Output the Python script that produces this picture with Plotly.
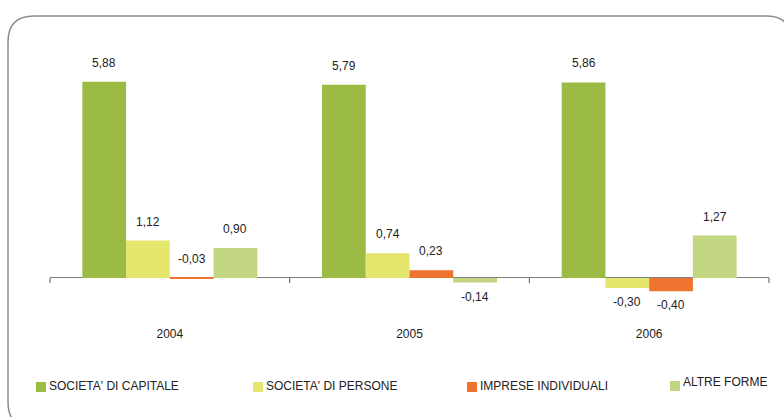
import plotly.graph_objects as go

years = ["2004", "2005", "2006"]
series_names = ["SOCIETA' DI CAPITALE", "SOCIETA' DI PERSONE", "IMPRESE INDIVIDUALI", "ALTRE FORME"]
capitale = [5.88, 5.79, 5.86]
persone = [1.12, 0.74, -0.30]
individuali = [-0.03, 0.23, -0.40]
altre = [0.90, -0.14, 1.27]
series_values = [capitale, persone, individuali, altre]
colors = ["#9BBB45", "#E4E66E", "#EE7430", "#C2D580"]

W, H = 784, 417
ML, MR, MT, MB = 50, 15, 41, 99
BARGAP = 0.27
YMIN, YMAX = -1.2, 7.1
FONT = "Liberation Sans, Arial, sans-serif"
TXT = "#222222"

plot_w = W - ML - MR
plot_h = H - MT - MB


def to_paper(px, py):
    return (px - ML) / plot_w, (H - MB - py) / plot_h


def rounded_rect(x0, y0, x1, y1, r):
    def p(x, y):
        a, b = to_paper(x, y)
        return f"{a:.5f},{b:.5f}"
    return (f"M{p(x0 + r, y0)} L{p(x1 - r, y0)} Q{p(x1, y0)} {p(x1, y0 + r)} "
            f"L{p(x1, y1 - r)} Q{p(x1, y1)} {p(x1 - r, y1)} L{p(x0 + r, y1)} "
            f"Q{p(x0, y1)} {p(x0, y1 - r)} L{p(x0, y0 + r)} Q{p(x0, y0)} {p(x0 + r, y0)} Z")


fig = go.Figure()
for name, vals, col in zip(series_names, series_values, colors):
    fig.add_trace(go.Bar(x=years, y=vals, name=name, showlegend=False,
                         marker=dict(color=col, line=dict(width=0))))

# value labels over each bar of the group (x = category index)
bar_w = plot_w / len(years) * (1 - BARGAP) / len(series_names)
annotations = []
for i, vals in enumerate(series_values):
    for j, v in enumerate(vals):
        above = v > -0.1
        annotations.append(dict(
            x=j, y=max(v, 0) if above else v, xref="x", yref="y",
            text=f"{v:.2f}".replace(".", ","), showarrow=False,
            xshift=(i - 1.5) * bar_w, yshift=19 if above else -14,
            yanchor="middle", font=dict(family=FONT, size=12, color=TXT)))

shapes = [dict(type="path", xref="paper", yref="paper", path=rounded_rect(8, 16, 792, 428, 26),
               line=dict(color="#8c8c8c", width=1.5), fillcolor="rgba(0,0,0,0)", layer="below")]
# category boundary ticks hanging from the zero line
for k in range(len(years) + 1):
    shapes.append(dict(type="line", xref="paper", yref="y", ysizemode="pixel", yanchor=0,
                       x0=k / len(years), x1=k / len(years), y0=0, y1=-5,
                       line=dict(color="#555555", width=1)))

# legend drawn by hand (swatch + label)
legend_x = [36, 253, 467, 670]
legend_y = [387, 387, 387, 386]
for name, col, lx, ly in zip(series_names, colors, legend_x, legend_y):
    x0, y0 = to_paper(lx, ly - 5)
    x1, y1 = to_paper(lx + 10, ly + 5)
    shapes.append(dict(type="rect", xref="paper", yref="paper", x0=x0, x1=x1, y0=y0, y1=y1,
                       fillcolor=col, line=dict(width=0)))
    tx, ty = to_paper(lx + 11, ly - 1 if lx < 600 else ly - 4)
    annotations.append(dict(x=tx, y=ty, xref="paper", yref="paper", text=name, showarrow=False,
                            xanchor="left", yanchor="middle",
                            font=dict(family=FONT, size=12, color=TXT)))

fig.update_layout(
    width=W, height=H,
    margin=dict(l=ML, r=MR, t=MT, b=MB),
    paper_bgcolor="white", plot_bgcolor="white",
    barmode="group", bargap=BARGAP, bargroupgap=0,
    showlegend=False,
    font=dict(family=FONT, size=12, color=TXT),
    xaxis=dict(type="category", range=[-0.5, len(years) - 0.5], showgrid=False, showline=False,
               ticks="outside", ticklen=5, tickcolor="rgba(0,0,0,0)",
               tickfont=dict(family=FONT, size=12, color=TXT)),
    yaxis=dict(range=[YMIN, YMAX], showgrid=False, showticklabels=False, zeroline=True,
               zerolinecolor="#808080", zerolinewidth=1),
    annotations=annotations,
    shapes=shapes,
)

# page body has a default 8px margin; drop it so the figure sits at the window corner
fig.write_html("out.html", config={"displayModeBar": False},
               post_script="document.body.style.margin='0';")
